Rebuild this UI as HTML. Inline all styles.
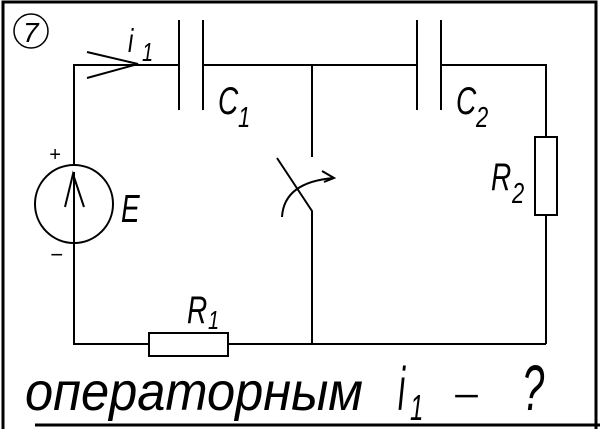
<!DOCTYPE html>
<html><head><meta charset="utf-8"><style>html,body{margin:0;padding:0;background:#fff;}svg{display:block}</style></head>
<body>
<svg width="600" height="429" viewBox="0 0 600 429" xmlns="http://www.w3.org/2000/svg">
<g fill="none" stroke="#000" stroke-width="2">
<polyline points="3,429 3,2 596,2 596,429" stroke-width="3"/>
<line x1="35" y1="425" x2="600" y2="425" stroke-width="3"/>
<circle cx="31" cy="31" r="17" stroke-width="1.5"/>
<polyline points="74,165 74,65 179,65"/>
<polyline points="203,65 417,65"/>
<polyline points="441,65 546,65 546,137"/>
<line x1="546" y1="215" x2="546" y2="344"/>
<line x1="312" y1="65" x2="312" y2="157"/>
<polyline points="277,158 312,211 312,344"/>
<polyline points="74,244 74,344 149,344"/>
<line x1="228" y1="344" x2="546" y2="344"/>
<line x1="179" y1="20" x2="179" y2="110"/>
<line x1="203" y1="20" x2="203" y2="110"/>
<line x1="417" y1="20" x2="417" y2="110"/>
<line x1="441" y1="20" x2="441" y2="110"/>
<rect x="149" y="333" width="79" height="23"/>
<rect x="535" y="137" width="22" height="78"/>
<circle cx="74" cy="204" r="39"/>
<line x1="74" y1="244" x2="74" y2="172"/>
<polyline points="65,207 73,174 84,207"/>
<polyline points="87,52 138,64 87,78"/>
<path d="M282,217 Q284,182 334,178"/>
<polyline points="322,171 334,178 324,182"/>
</g>
<g font-family="Liberation Sans, sans-serif" font-style="italic" fill="#000">
<text x="23" y="42" font-size="28">7</text>
<text transform="translate(128,52) scale(1,1.4)" font-size="24">i</text><text transform="translate(142,61) scale(1,1.3)" font-size="20">1</text>
<text transform="translate(218,114) scale(1,1.4)" font-size="28">C</text><text transform="translate(238,127) scale(1,1.3)" font-size="22">1</text>
<text transform="translate(456,114) scale(1,1.4)" font-size="28">C</text><text transform="translate(476,127) scale(1,1.3)" font-size="22">2</text>
<text transform="translate(491,190) scale(1,1.4)" font-size="28">R</text><text transform="translate(512,203) scale(1,1.3)" font-size="22">2</text>
<text transform="translate(121,222) scale(1,1.4)" font-size="28">E</text>
<text transform="translate(187,323) scale(1,1.4)" font-size="28">R</text><text transform="translate(208,329) scale(1,1.3)" font-size="20">1</text>
<text x="49" y="161" font-size="20">+</text>
<text x="50" y="262" font-size="22">−</text>
<text transform="translate(25,410) scale(1,1.5)" font-size="36" textLength="338" lengthAdjust="spacingAndGlyphs">операторным</text>
<text transform="translate(398,410) scale(1,1.9)" font-size="32">i</text><text transform="translate(410,420) scale(1,1.5)" font-size="24">1</text>
<text transform="translate(452,408) scale(1.3,1)" font-size="36">−</text>
<text transform="translate(522,410) scale(1,1.6)" font-size="40">?</text>
</g>
</svg>
</body></html>
